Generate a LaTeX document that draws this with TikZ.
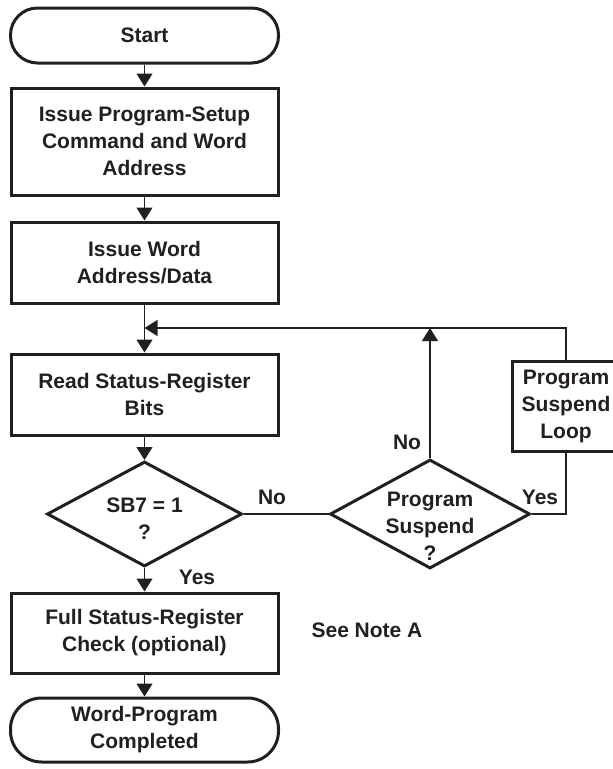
\documentclass[tikz,border=0pt]{standalone}
\usepackage{fontspec}
\setmainfont{Liberation Sans}
\usetikzlibrary{shapes.geometric,arrows.meta}
\definecolor{ink}{HTML}{231F20}
\begin{document}
\begin{tikzpicture}[x=1pt,y=-1pt,
  every node/.style={font=\bfseries\fontsize{21}{27}\selectfont, text=ink, align=center, inner sep=0pt},
  box/.style={draw=ink, line width=3pt, minimum width=267pt},
  term/.style={draw=ink, line width=3pt, minimum width=268pt},
  dia/.style={draw=ink, line width=3pt, shape=diamond, inner sep=0pt},
  conn/.style={draw=ink, line width=1.1pt},
  tri/.style={-{Triangle[width=16pt 0,length=13pt 0]}}
]
\useasboundingbox (0,0) rectangle (613,769);
\clip (0,0) rectangle (613,769);

\node[term, minimum height=55pt, rounded corners=27pt] (start) at (144.5,35.5) {Start};
\node[box, minimum height=107pt] (b1) at (144.5,141.5) {Issue Program-Setup\\Command and Word\\Address};
\node[box, minimum height=81pt] (b2) at (144.5,262.5) {Issue Word\\Address/Data};
\node[box, minimum height=81pt] (b3) at (144.5,394.5) {Read Status-Register\\Bits};
\node[dia, minimum width=195pt, minimum height=105pt, aspect=1.857] (d1) at (144.5,514) {};
\node (d1t) at (144.5,518.5) {SB7 = 1\\?};
\node[box, minimum height=80pt] (b4) at (144.5,633) {Full Status-Register\\Check (optional)};
\node[term, minimum height=64pt, rounded corners=31pt] (end) at (144.5,730) {Word-Program\\Completed};

\node[dia, minimum width=200pt, minimum height=109pt, aspect=1.835] (d2) at (430,514) {};
\node (d2t) at (430,526) {Program\\Suspend\\?};
\node[box, minimum width=108pt, minimum height=90pt] (psl) at (566,406) {Program\\Suspend\\Loop};

\coordinate (j) at (144.5,328);
\coordinate (top) at (430,328);

\draw[conn,tri] (start) -- (b1);
\draw[conn,tri] (b1) -- (b2);
\draw[conn,tri] (b2) -- (b3);
\draw[conn,tri] (b3) -- (d1);
\draw[conn,tri] (d1) -- (b4);
\draw[conn,tri] (b4) -- (end);
\draw[conn] (d1.east) -- (d2.west);
\draw[conn] (d2.east) -| (psl.south);
\draw[conn,tri] (psl.north) |- (j);
\draw[conn,tri] (d2.north) -- (top);

\node (no1) at (272,497) {No};
\node (yes1) at (197,577) {Yes};
\node (no2) at (407,442) {No};
\node (yes2) at (540,497) {Yes};
\node (note) at (367,630) {See Note A};
\end{tikzpicture}
\end{document}
